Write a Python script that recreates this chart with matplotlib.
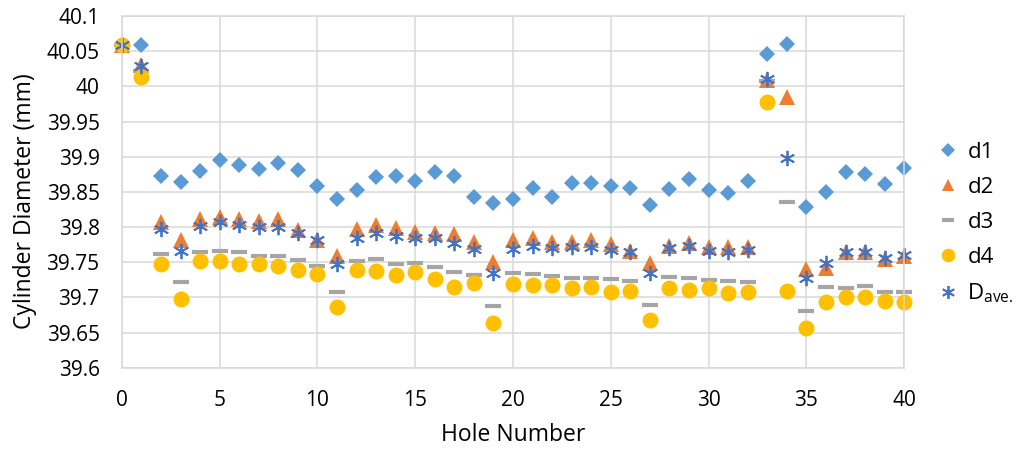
import matplotlib
matplotlib.use("Agg")
import matplotlib.pyplot as plt

plt.rcParams['font.family'] = ['Open Sans', 'DejaVu Sans']
plt.rcParams['mathtext.fontset'] = 'custom'
plt.rcParams['mathtext.rm'] = 'Open Sans'

holes = list(range(41))

d1 = [40.059, 40.059, 39.872, 39.864, 39.880, 39.895, 39.889, 39.883, 39.891, 39.881,
      39.858, 39.840, 39.853, 39.871, 39.873, 39.865, 39.878, 39.873, 39.843, 39.834,
      39.840, 39.855, 39.843, 39.863, 39.862, 39.858, 39.856, 39.831, 39.854, 39.869,
      39.853, 39.849, 39.866, 40.046, 40.060, 39.828, 39.850, 39.879, 39.876, 39.861,
      39.884]
d2 = [40.059, 40.030, 39.807, 39.782, 39.811, 39.814, 39.811, 39.809, 39.811, 39.796,
      39.782, 39.759, 39.797, 39.803, 39.799, 39.793, 39.791, 39.790, 39.779, 39.750,
      39.782, 39.785, 39.779, 39.779, 39.782, 39.776, 39.766, 39.749, 39.773, 39.778,
      39.772, 39.772, 39.771, 40.009, 39.985, 39.740, 39.742, 39.764, 39.764, 39.755,
      39.759]
d3 = [40.059, 40.022, 39.762, 39.722, 39.764, 39.766, 39.764, 39.759, 39.759, 39.753,
      39.744, 39.707, 39.752, 39.754, 39.748, 39.749, 39.743, 39.736, 39.732, 39.688,
      39.734, 39.733, 39.731, 39.727, 39.727, 39.726, 39.723, 39.689, 39.729, 39.727,
      39.724, 39.723, 39.722, 40.008, 39.836, 39.680, 39.715, 39.714, 39.716, 39.708,
      39.708]
d4 = [40.059, 40.014, 39.748, 39.698, 39.752, 39.752, 39.748, 39.747, 39.744, 39.739,
      39.733, 39.686, 39.739, 39.738, 39.732, 39.736, 39.726, 39.715, 39.720, 39.664,
      39.719, 39.717, 39.718, 39.714, 39.715, 39.708, 39.709, 39.668, 39.714, 39.710,
      39.713, 39.706, 39.707, 39.978, 39.709, 39.657, 39.694, 39.700, 39.700, 39.695,
      39.694]
d_ave = [40.059, 40.029, 39.797, 39.766, 39.802, 39.807, 39.803, 39.800, 39.800, 39.792,
         39.781, 39.748, 39.785, 39.791, 39.787, 39.785, 39.785, 39.778, 39.769, 39.734,
         39.769, 39.773, 39.770, 39.771, 39.772, 39.767, 39.764, 39.735, 39.770, 39.773,
         39.766, 39.764, 39.767, 40.010, 39.898, 39.727, 39.749, 39.764, 39.764, 39.756,
         39.760]

y_ticks = [39.6, 39.65, 39.7, 39.75, 39.8, 39.85, 39.9, 39.95, 40.0, 40.05, 40.1]
y_tick_labels = ['39.6', '39.65', '39.7', '39.75', '39.8', '39.85', '39.9',
                 '39.95', '40', '40.05', '40.1']

fig = plt.figure(figsize=(10.24, 4.5), dpi=100)
ax = fig.add_axes([0.119, 0.183, 0.764, 0.781])

ax.plot(holes, d1, ls='none', marker='D', ms=7.8, color='#5B9BD5', mew=0, label='d1', clip_on=False)
ax.plot(holes, d2, ls='none', marker='^', ms=11, color='#ED7D31', mew=0, label='d2', clip_on=False)
ax.plot(holes, d3, ls='none', marker='_', ms=11, color='#A5A5A5', mew=3, label='d3', clip_on=False)
ax.plot(holes, d4, ls='none', marker='o', ms=11.5, color='#FFC000', mew=0, label='d4', clip_on=False)
ax.plot(holes, d_ave, ls='none', marker=(6, 2, 0), ms=11, color='#4472C4', mew=1.3,
        label=r'D$_{\mathrm{ave.}}$', clip_on=False)

ax.set_xlim(0, 40)
ax.set_ylim(39.6, 40.1)
ax.set_xticks(range(0, 41, 5))
ax.set_yticks(y_ticks)
ax.set_yticklabels(y_tick_labels)
ax.grid(True, color='#D9D9D9', lw=1.1)
ax.set_axisbelow(True)
for s in ax.spines.values():
    s.set_color('#D9D9D9')
    s.set_linewidth(1.1)
ax.tick_params(length=0, labelsize=15, colors='#000000', pad=16)
for lab in ax.get_xticklabels() + ax.get_yticklabels():
    lab.set_color('#000000')

ax.set_xlabel('Hole Number', fontsize=16.5)
ax.xaxis.set_label_coords(0.5, -0.157)
ax.set_ylabel('Cylinder Diameter (mm)', fontsize=16.5, va='center')
ax.yaxis.set_label_coords(-0.124, 0.474)

ax.legend(loc='center left', bbox_to_anchor=(1.042, 0.41), frameon=False,
          fontsize=16, handlelength=1.0, handletextpad=0.36, labelspacing=0.62,
          borderaxespad=0, borderpad=0, markerscale=0.85)

fig.savefig('out.png', dpi=100)
